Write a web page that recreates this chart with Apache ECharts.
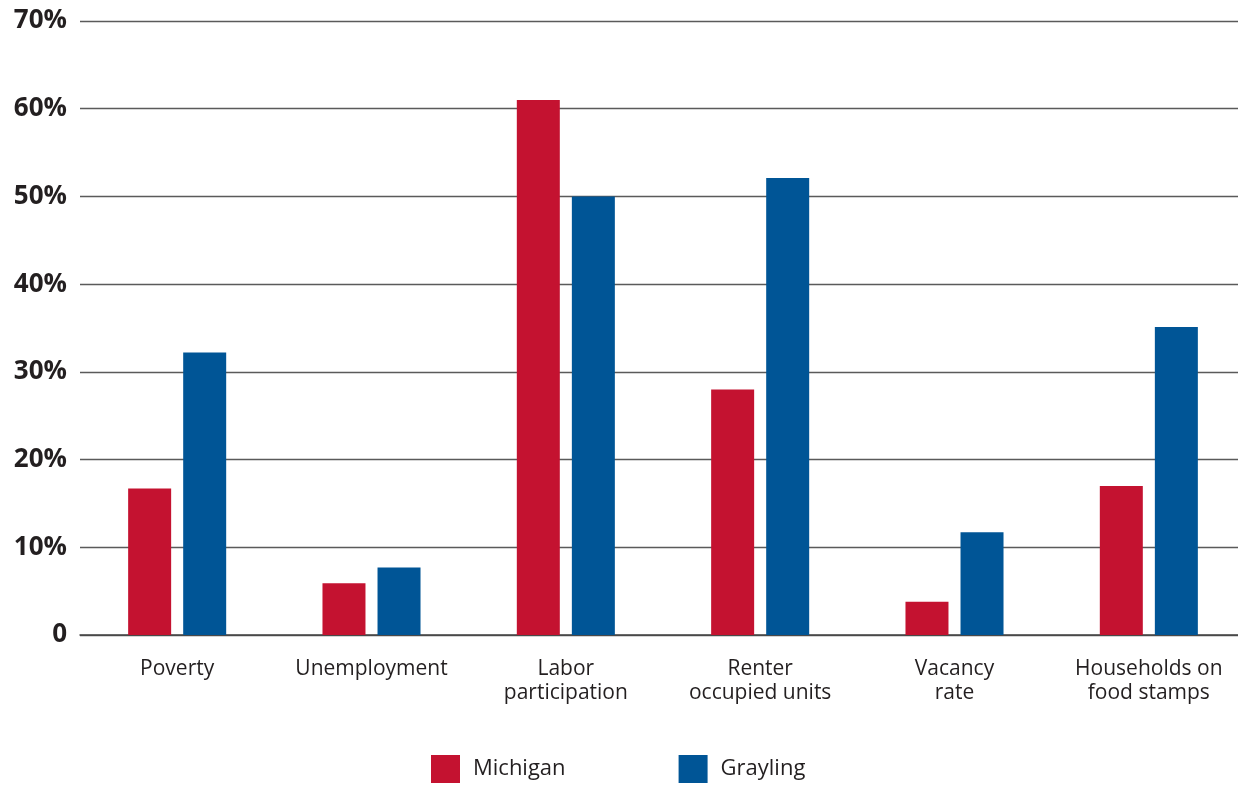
<!DOCTYPE html>
<html>
<head>
<meta charset="utf-8">
<script src="https://cdn.jsdelivr.net/npm/echarts@6/dist/echarts.min.js"></script>
<style>
html,body{margin:0;padding:0;background:#fff;overflow:hidden;}
#chart{width:1246px;height:785px;}
</style>
</head>
<body>
<div id="chart"></div>
<script>
const categories = ['Poverty', 'Unemployment', 'Labor\nparticipation', 'Renter\noccupied units', 'Vacancy\nrate', 'Households on\nfood stamps'];
const michigan = [16.7, 5.9, 61.0, 28.0, 3.8, 17.0];
const grayling = [32.2, 7.7, 50.0, 52.1, 11.7, 35.1];
const yTicks = [0, 10, 20, 30, 40, 50, 60, 70];

const chart = echarts.init(document.getElementById('chart'));
const textColor = '#231f20';
const lineColor = '#5a5a5a';
chart.setOption({
  animation: false,
  backgroundColor: '#ffffff',
  textStyle: { fontFamily: 'Open Sans' },
  legend: {
    left: 426,
    top: 750,
    itemWidth: 29,
    itemHeight: 28,
    itemGap: 113,
    icon: 'rect',
    textStyle: { fontSize: 22, color: textColor, fontFamily: 'Open Sans', padding: [6, 0, 0, 8] },
    data: ['Michigan', 'Grayling']
  },
  grid: { left: 80, right: 0, top: 21, bottom: 150 },
  xAxis: {
    type: 'category',
    data: categories,
    axisTick: { show: false },
    axisLine: { show: true, lineStyle: { color: '#444', width: 1.5 } },
    axisLabel: { interval: 0, fontSize: 21, lineHeight: 24, color: textColor, margin: 22, fontFamily: 'Open Sans' }
  },
  yAxis: {
    type: 'value',
    min: yTicks[0],
    max: yTicks[yTicks.length - 1],
    interval: 10,
    axisLine: { show: false },
    axisTick: { show: false },
    splitLine: { lineStyle: { color: lineColor, width: 1.4 } },
    axisLabel: {
      margin: 13,
      fontSize: 26,
      fontWeight: 'bold',
      color: textColor,
      fontFamily: 'Open Sans',
      formatter: v => v === 0 ? '0' : v + '%'
    }
  },
  series: [
    { name: 'Michigan', type: 'bar', data: michigan, barWidth: 43, barGap: '28%', itemStyle: { color: '#c41230' } },
    { name: 'Grayling', type: 'bar', data: grayling, barWidth: 43, barGap: '28%', itemStyle: { color: '#005596' } }
  ]
});
</script>
</body>
</html>
